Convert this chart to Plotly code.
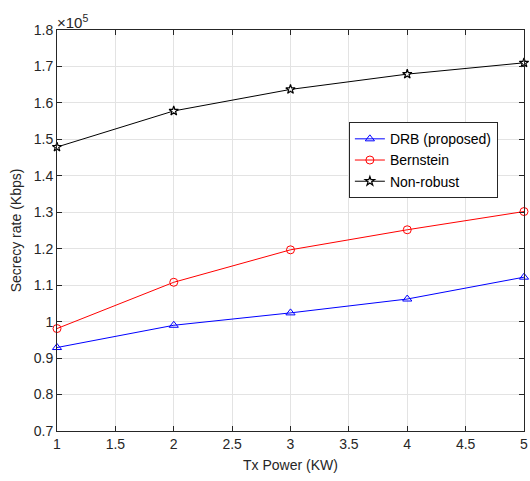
import plotly.graph_objects as go

tx_power = [1, 2, 3, 4, 5]
drb = [0.929, 0.990, 1.024, 1.062, 1.122]
bernstein = [0.981, 1.108, 1.197, 1.252, 1.302]
nonrobust = [1.479, 1.578, 1.637, 1.679, 1.710]

x_ticks = [1, 1.5, 2, 2.5, 3, 3.5, 4, 4.5, 5]
x_tick_text = ["1", "1.5", "2", "2.5", "3", "3.5", "4", "4.5", "5"]
y_ticks = [0.7, 0.8, 0.9, 1.0, 1.1, 1.2, 1.3, 1.4, 1.5, 1.6, 1.7, 1.8]
y_tick_text = ["0.7", "0.8", "0.9", "1", "1.1", "1.2", "1.3", "1.4", "1.5", "1.6", "1.7", "1.8"]

FONT = "Liberation Sans, Arial, sans-serif"

fig = go.Figure()
fig.add_trace(go.Scatter(x=tx_power, y=drb, mode="lines+markers", name="DRB (proposed)",
                         cliponaxis=False,
                         line=dict(color="#0000ff", width=1),
                         marker=dict(symbol="triangle-up-open", size=8, color="#0000ff", line=dict(width=1))))
fig.add_trace(go.Scatter(x=tx_power, y=bernstein, mode="lines+markers", name="Bernstein",
                         cliponaxis=False,
                         line=dict(color="#ff0000", width=1),
                         marker=dict(symbol="circle-open", size=8, color="#ff0000", line=dict(width=1))))
fig.add_trace(go.Scatter(x=tx_power, y=nonrobust, mode="lines+markers", name="Non-robust",
                         cliponaxis=False,
                         line=dict(color="#000000", width=1),
                         marker=dict(symbol="star", size=7, color="#ffffff", line=dict(width=1.2, color="#000000"))))

axis_common = dict(showgrid=True, gridcolor="#e3e3e3", gridwidth=1, zeroline=False,
                   showline=True, linecolor="#262626", linewidth=1, mirror="ticks",
                   ticks="inside", ticklen=5, tickcolor="#262626", automargin=False,
                   tickfont=dict(family=FONT, size=14, color="#262626"))

fig.update_xaxes(range=[1, 5], tickvals=x_ticks, ticktext=x_tick_text,
                 title=dict(text="Tx Power (KW)", font=dict(family=FONT, size=14, color="#262626"), standoff=9),
                 **axis_common)
fig.update_yaxes(range=[0.7, 1.8], tickvals=y_ticks, ticktext=y_tick_text,
                 title=dict(text="Secrecy rate (Kbps)", font=dict(family=FONT, size=14, color="#262626"), standoff=8),
                 **axis_common)

fig.add_annotation(x=0, y=1, xref="paper", yref="paper", xanchor="left", yanchor="bottom",
                   text="×10<sup>5</sup>", showarrow=False, yshift=-3, xshift=-2,
                   font=dict(family=FONT, size=15, color="#262626"))

fig.update_layout(
    width=530, height=481,
    margin=dict(l=57, r=6, t=30, b=50),
    paper_bgcolor="white", plot_bgcolor="white",
    showlegend=True,
    legend=dict(x=0.625, y=0.77, xanchor="left", yanchor="top",
                bgcolor="white", bordercolor="#262626", borderwidth=1,
                font=dict(family=FONT, size=14, color="#000000"),
                tracegroupgap=0, itemwidth=30),
)

fig.write_html("out.html", config={"displayModeBar": False},
               post_script="document.body.style.margin='0';")
